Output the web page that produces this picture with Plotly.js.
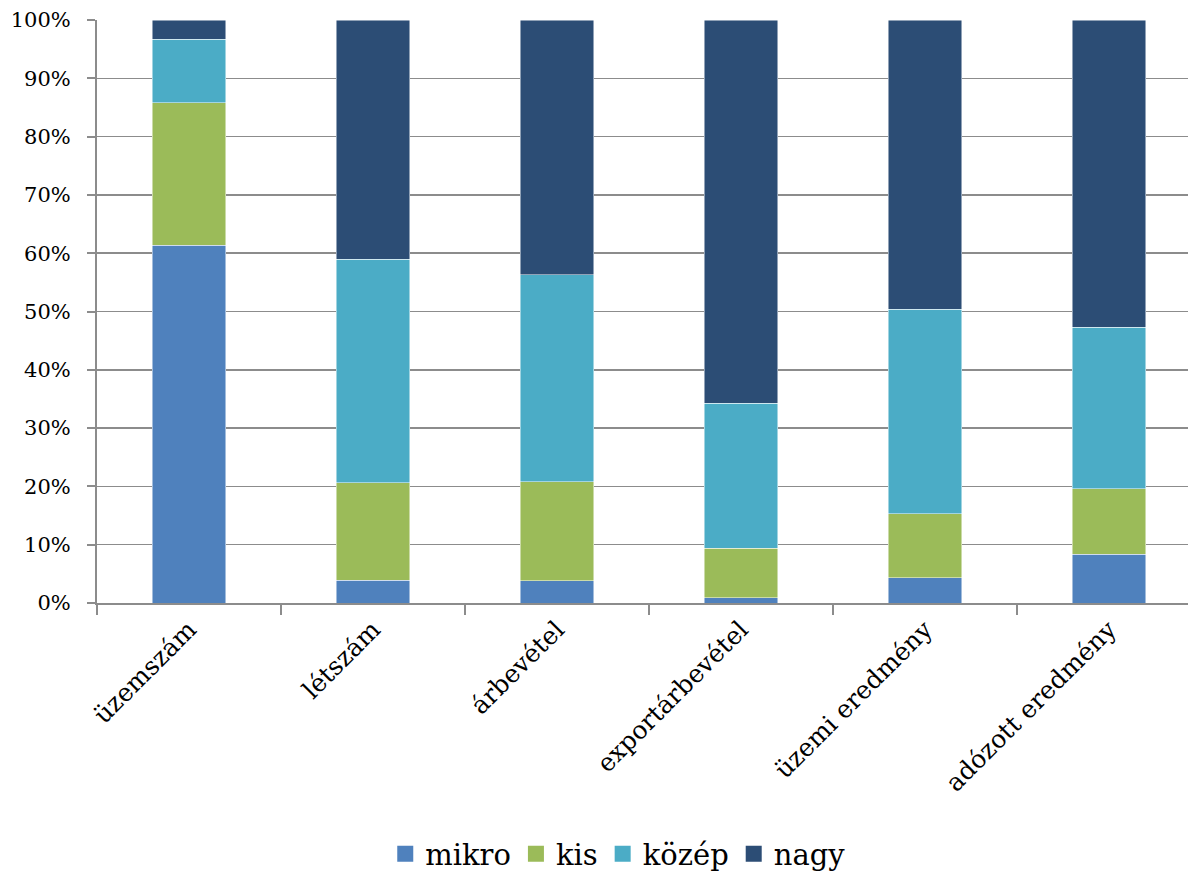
<!DOCTYPE html>
<html>
<head>
<meta charset="utf-8">
<script src="https://cdn.plot.ly/plotly-3.0.1.min.js"></script>
<style>html,body{margin:0;padding:0;background:#fff;}#chart{width:1188px;height:873px;}</style>
</head>
<body>
<div id="chart"></div>
<script>
var categories = ["üzemszám", "létszám", "árbevétel", "exportárbevétel", "üzemi eredmény", "adózott eredmény"];
var mikro  = [61.4, 3.9, 3.8, 0.9, 4.3, 8.4];
var kis    = [24.4, 16.7, 17.0, 8.5, 11.0, 11.2];
var kozep  = [10.9, 38.4, 35.5, 24.9, 35.1, 27.7];
var nagy   = [3.3, 41.0, 43.7, 65.7, 49.6, 52.7];
var seriesNames = ["mikro", "kis", "közép", "nagy"];
var colors = ["#4F81BD", "#9BBB59", "#4BACC6", "#2C4D75"];

var series = [mikro, kis, kozep, nagy];
var traces = series.map(function (vals, i) {
  return {
    type: "bar",
    x: categories,
    y: vals,
    name: seriesNames[i],
    width: 0.4,
    showlegend: false,
    marker: { color: colors[i], line: { color: "rgba(255,255,255,0.6)", width: 0.8 } },
    hoverinfo: "skip"
  };
});
seriesNames.forEach(function (n, i) {
  traces.push({
    type: "scatter",
    mode: "markers",
    x: [null], y: [null],
    name: n,
    marker: { symbol: "square", size: 19, color: colors[i] },
    showlegend: true,
    hoverinfo: "skip"
  });
});

var font = "DejaVu Serif";
var layout = {
  width: 1188,
  height: 873,
  margin: { l: 97, r: 0, t: 20, b: 270 },
  barmode: "stack",
  barnorm: "fraction",
  paper_bgcolor: "#ffffff",
  plot_bgcolor: "#ffffff",
  font: { family: font, size: 21, color: "#000" },
  showlegend: true,
  legend: {
    orientation: "h",
    xref: "container", yref: "container",
    x: 0.52, y: 0.022,
    xanchor: "center", yanchor: "middle",
    font: { family: font, size: 29, color: "#000" },
    itemwidth: 30,
    traceorder: "normal"
  },
  xaxis: {
    type: "category",
    range: [-0.5, 5.43],
    tickangle: -45,
    tickson: "boundaries",
    ticks: "outside",
    ticklen: 10,
    tickwidth: 2,
    tickcolor: "#8c8c8c",
    showline: true,
    linecolor: "#8c8c8c",
    linewidth: 2,
    showgrid: false,
    tickfont: { family: font, size: 25, color: "#000" },
    fixedrange: true
  },
  yaxis: {
    range: [0, 1],
    dtick: 0.1,
    tickformat: ".0%",
    ticks: "outside",
    ticklen: 8,
    tickwidth: 2,
    tickcolor: "#8c8c8c",
    ticklabelstandoff: 12,
    showline: true,
    linecolor: "#8c8c8c",
    linewidth: 2,
    showgrid: true,
    gridcolor: "#8c8c8c",
    gridwidth: 1.5,
    zeroline: false,
    tickfont: { family: font, size: 21, color: "#000" },
    fixedrange: true
  }
};

Plotly.newPlot("chart", traces, layout, { displayModeBar: false, staticPlot: true });
</script>
</body>
</html>
